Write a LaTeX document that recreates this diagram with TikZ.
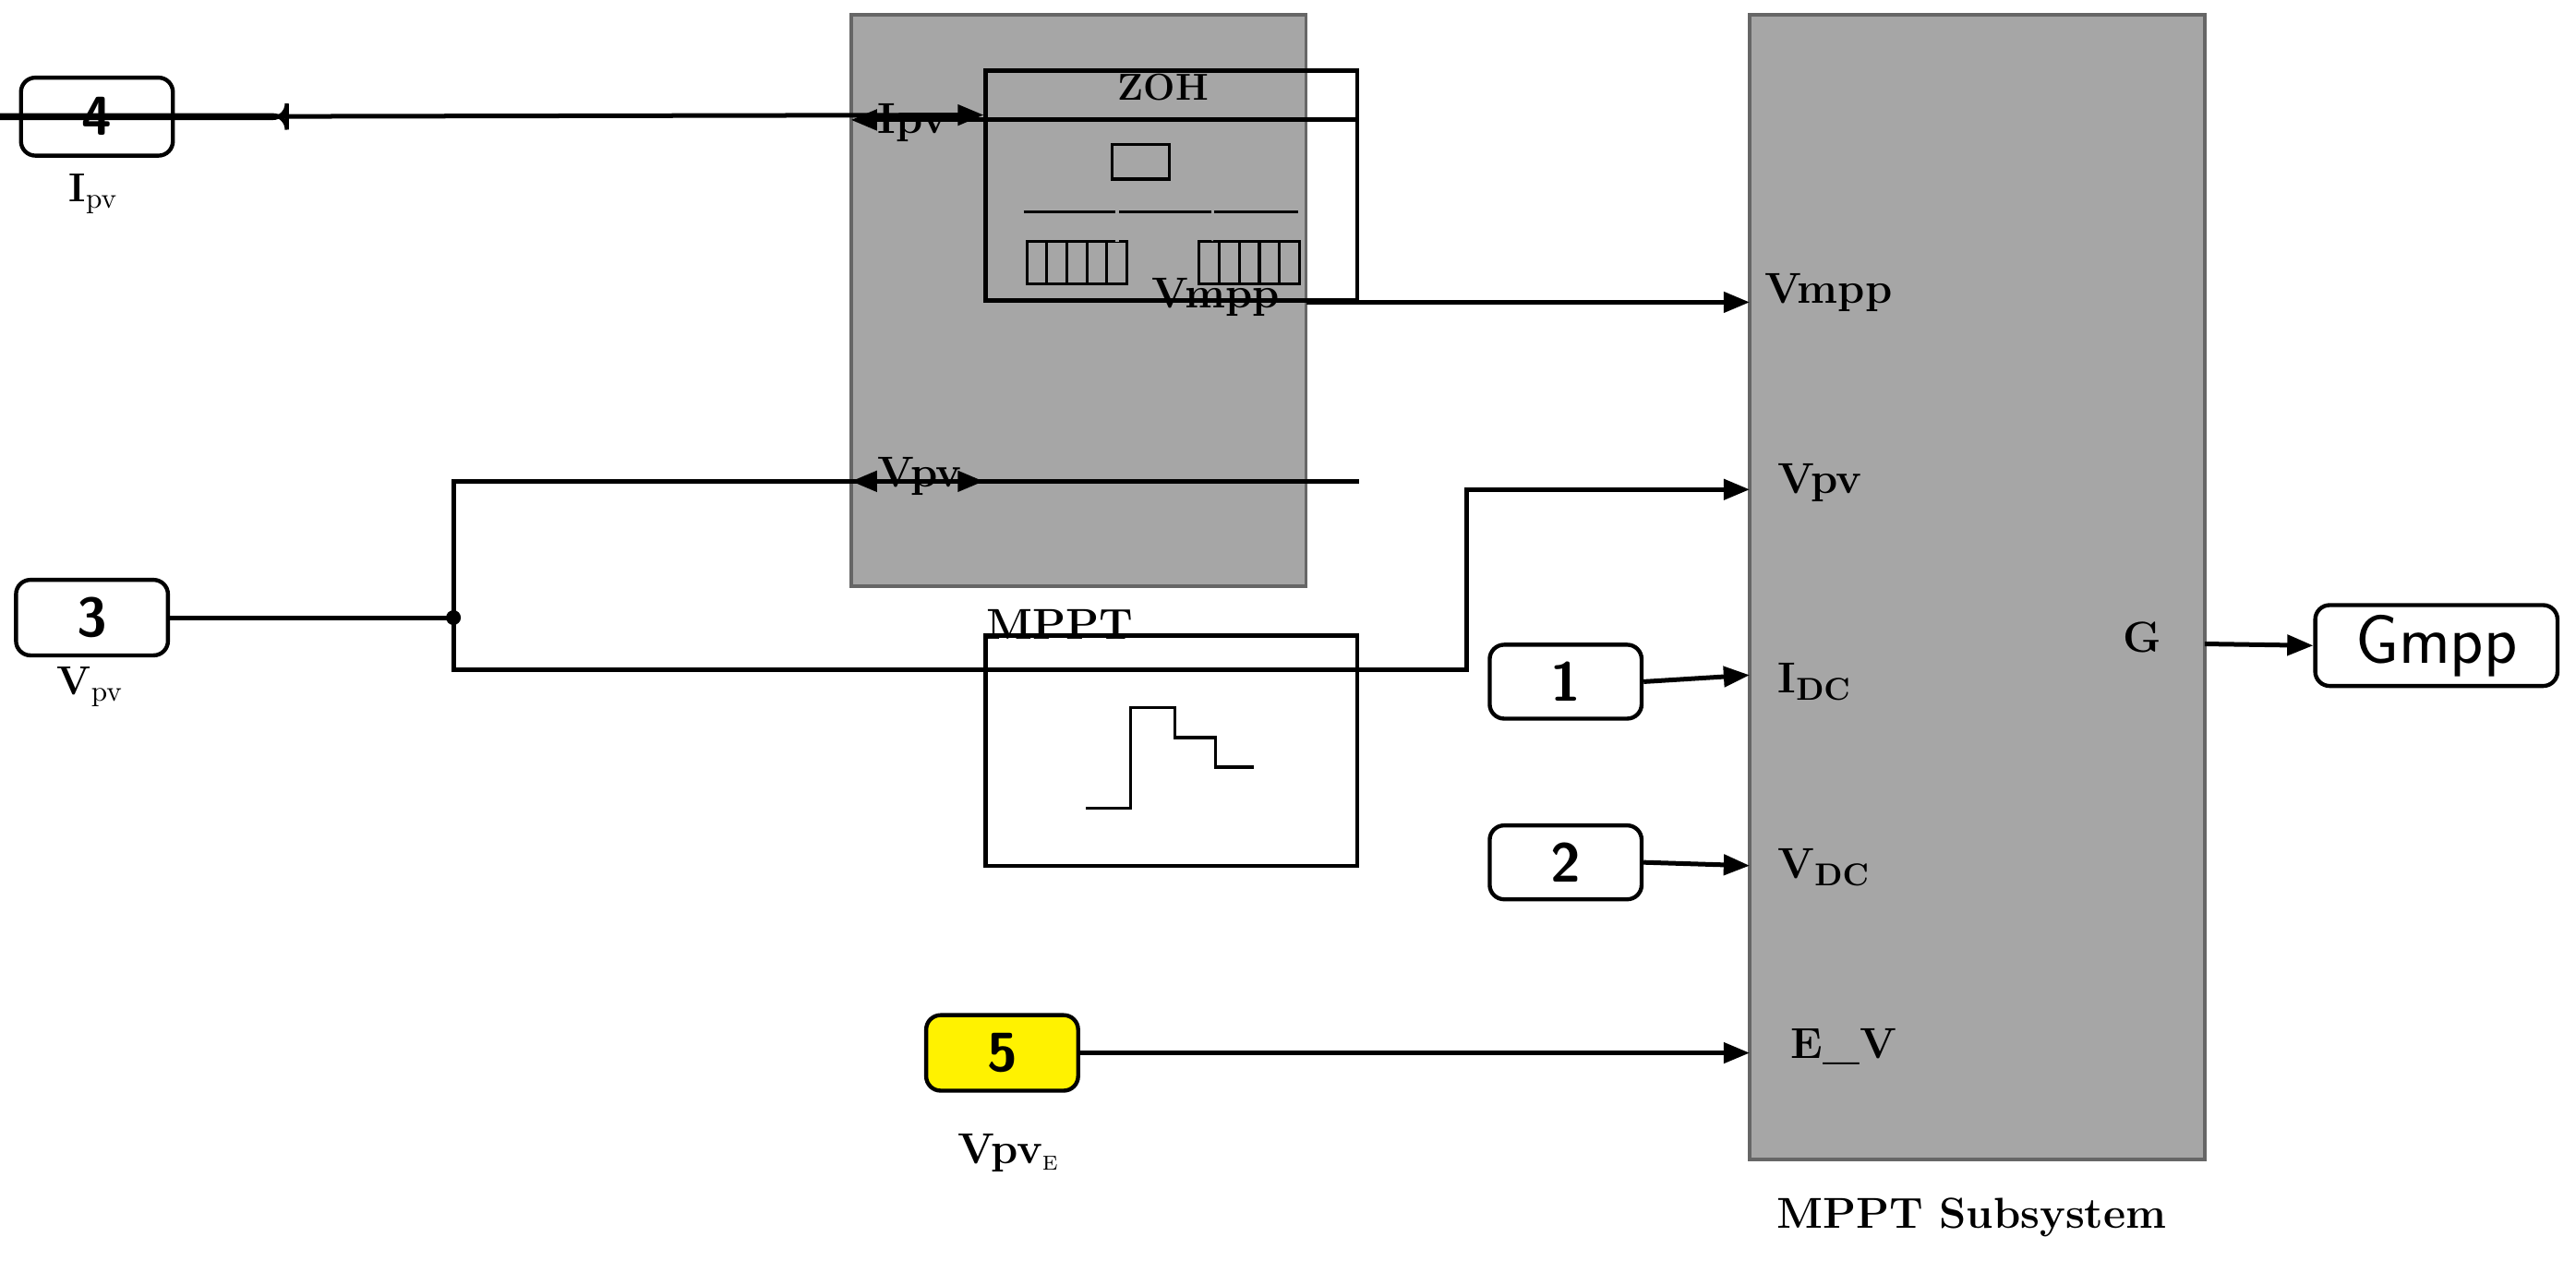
\documentclass[tikz,border=0pt]{standalone}
\usetikzlibrary{arrows.meta}
\begin{document}
\begin{tikzpicture}[x=0.02cm,y=-0.02cm,
 ln/.style={line width=1.6pt,-{Triangle[length=9pt,width=7pt]}},
 port/.style={draw,line width=1.4pt,rounded corners=5pt,font=\sffamily\bfseries\fontsize{19}{20}\selectfont},
 blk/.style={draw,line width=1.4pt},
 big/.style={draw=gray!80!black,fill=black!35,line width=1.2pt},
 lab/.style={font=\bfseries\fontsize{15}{16}\selectfont},
 sub/.style={font=\bfseries\fontsize{14}{15}\selectfont}]
\useasboundingbox (0,0) rectangle (1568,775);
% big blocks
\draw[big] (518,9) rectangle (795,357);
\draw[big] (1065,9) rectangle (1342,706);
\coordinate (mA) at (518,73); \coordinate (mB) at (518,293); \coordinate (mO) at (795,184);
\coordinate (sA) at (1065,184); \coordinate (sB) at (1065,298); \coordinate (sC) at (1065,411);
\coordinate (sD) at (1065,527); \coordinate (sE) at (1065,641); \coordinate (sO) at (1342,392);
\node[lab,anchor=west] (l1) at (528,75) {Ipv};
\node[lab,anchor=west] (l2) at (528,290) {Vpv};
\node[lab,anchor=east] (l3) at (785,181) {Vmpp};
\node[lab] (l4) at (645,380) {MPPT};
\node[lab,anchor=west] (l5) at (1068,178) {Vmpp};
\node[lab,anchor=west] (l6) at (1076,294) {Vpv};
\node[lab,anchor=west] (l7) at (1076,415) {I$_{\mathrm{\bf DC}}$};
\node[lab,anchor=west] (l8) at (1076,528) {V$_{\mathrm{\bf DC}}$};
\node[lab,anchor=west] (l9) at (1084,637) {E\_V};
\node[lab,anchor=east] (l10) at (1322,388) {G};
\node[lab] (l11) at (1200,741) {MPPT Subsystem};
% ports
\node[port,minimum width=94\pgflinewidth,inner sep=0] (p4) at (59,71) {};
\node[port] (p4) at (59,71) [minimum width=1.85cm,minimum height=0.95cm] {4};
\node[port,minimum width=1.85cm,minimum height=0.92cm] (p3) at (56,376) {3};
\node[port,minimum width=1.85cm,minimum height=0.9cm] (p1) at (953,415) {1};
\node[port,minimum width=1.85cm,minimum height=0.9cm] (p2) at (953,525) {2};
\node[port,fill=yellow,minimum width=1.85cm,minimum height=0.92cm] (p5) at (610,641) {5};
\node[port,minimum width=2.95cm,minimum height=0.92cm,font=\sffamily\fontsize{24}{26}\selectfont] (pg) at (1483,393) {Gmpp};
\node[sub] (t4) at (57,118) {I$_{\mathrm{pv}}$};
\node[sub] (t3) at (55,418) {V$_{\mathrm{pv}}$};
\node[lab] (t5) at (614,702) {Vpv$_{\scriptscriptstyle\mathrm{E}}$};
% ZOH block
\node[blk,minimum width=4.52cm,minimum height=2.8cm,inner sep=0] (zoh) at (713,113) {};
\node[font=\bfseries\fontsize{13}{14}\selectfont] (zt) at (708,53) {ZOH};
\draw[line width=1pt] (677,88) rectangle (712,109);
\draw[line width=1pt] (623,129) -- (790,129);
\draw[line width=1pt] (625,147) rectangle (686,173);
\draw[line width=1pt] (730,147) rectangle (791,173);
\foreach \i in {1,...,4}{\draw[line width=1pt] (625+12.2*\i,147)--(625+12.2*\i,173); \draw[line width=1pt] (730+12.2*\i,147)--(730+12.2*\i,173);}
\draw[gray!70,line width=1pt,-{Triangle[length=3pt,width=4pt]}] (680,147)--(680,117);
\draw[gray!70,line width=1pt,-{Triangle[length=3pt,width=4pt]}] (738,117)--(738,147);
% step block
\node[blk,minimum width=4.52cm,minimum height=2.8cm,inner sep=0] (stp) at (713,457) {};
\draw[line width=1pt] (661,492)--(688,492)--(688,431)--(715,431)--(715,449)--(740,449)--(740,467)--(763,467);
% junction
\coordinate (j) at (276,376);
\fill (j) circle (4.5);
% connectors
\draw[ln] (p4.east) -- (zoh.west |- 0,70);
\draw[ln] (zoh.east |- 0,73) -- (mA);
\draw[ln] (stp.east |- 0,293) -- (mB);
\draw[line width=1.6pt] (p3.east) -- (j);
\draw[ln] (j) -- (276,293) -- (stp.west |- 0,293);
\draw[ln] (j) -- (276,408) -- (893,408) -- (893,298) -- (sB);
\draw[ln] (mO) -- (sA);
\draw[ln] (p1.east) -- (sC);
\draw[ln] (p2.east) -- (sD);
\draw[ln] (p5.east) -- (sE);
\draw[ln] (sO) -- (pg.west);
\end{tikzpicture}
\end{document}
